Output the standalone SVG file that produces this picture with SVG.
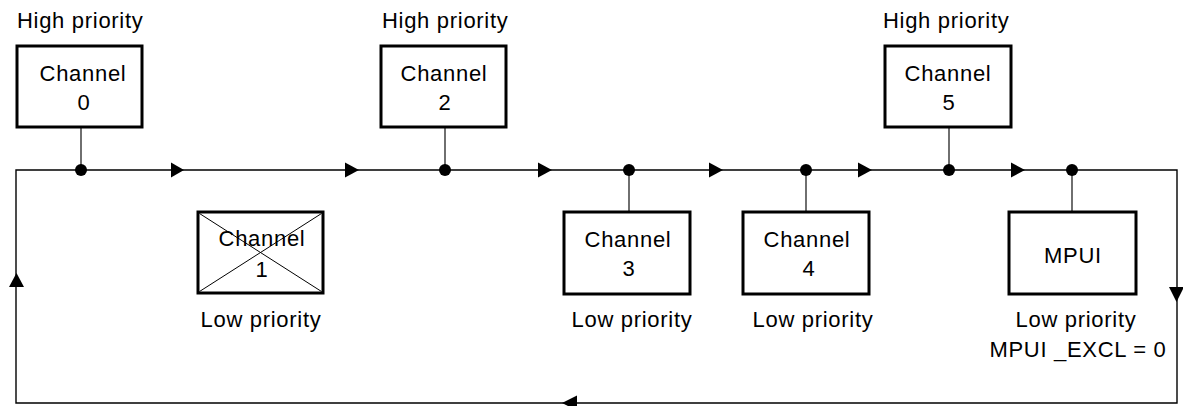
<svg xmlns="http://www.w3.org/2000/svg" width="1183" height="406" viewBox="0 0 1183 406">
<style>
text{font-family:"Liberation Sans",Arial,sans-serif;font-size:22px;letter-spacing:0.7px;fill:#000}
.m{text-anchor:middle}
.box{fill:#fff;stroke:#000;stroke-width:3}
.bus{fill:none;stroke:#000;stroke-width:1.4}
.stub{stroke:#333;stroke-width:1.4}
.arr{fill:#000}
.dot{fill:#000}
.x{stroke:#000;stroke-width:1}
</style>
<g id="connectors">
<path class="bus" d="M16,403 L16,170 L1177,170 L1177,403 Z"/>
<line class="stub" x1="81" y1="127" x2="81" y2="170"/>
<line class="stub" x1="445" y1="127" x2="445" y2="170"/>
<line class="stub" x1="949" y1="127" x2="949" y2="170"/>
<line class="stub" x1="629" y1="170" x2="629" y2="212"/>
<line class="stub" x1="806" y1="170" x2="806" y2="212"/>
<line class="stub" x1="1072" y1="170" x2="1072" y2="212"/>
<polygon class="arr" points="171,162.5 184,170 171,177.5"/>
<polygon class="arr" points="345,162.5 359,170 345,177.5"/>
<polygon class="arr" points="538,162.5 552,170 538,177.5"/>
<polygon class="arr" points="709,162.5 723,170 709,177.5"/>
<polygon class="arr" points="858,162.5 872,170 858,177.5"/>
<polygon class="arr" points="1011,162.5 1025,170 1011,177.5"/>
<polygon class="arr" points="1169,287 1184,287 1176.5,302"/>
<polygon class="arr" points="577,395.5 577,410.5 562,403"/>
<polygon class="arr" points="9,287 24,287 16.5,273"/>
<circle class="dot" cx="81" cy="170" r="6"/>
<circle class="dot" cx="445" cy="170" r="6"/>
<circle class="dot" cx="629" cy="170" r="6"/>
<circle class="dot" cx="806" cy="170" r="6"/>
<circle class="dot" cx="949" cy="170" r="6"/>
<circle class="dot" cx="1072" cy="170" r="6"/>
</g>
<g id="channel0">
<text x="17" y="28">High priority</text>
<rect class="box" x="17" y="46" width="125" height="81"/>
<text class="m" x="83" y="81">Channel</text>
<text class="m" x="84" y="110">0</text>
</g>
<g id="channel2">
<text x="382" y="28">High priority</text>
<rect class="box" x="381" y="46" width="125" height="81"/>
<text class="m" x="444" y="81">Channel</text>
<text class="m" x="445" y="110">2</text>
</g>
<g id="channel5">
<text x="883" y="28">High priority</text>
<rect class="box" x="885" y="46" width="126" height="81"/>
<text class="m" x="948" y="81">Channel</text>
<text class="m" x="949" y="110">5</text>
</g>
<g id="channel1">
<rect class="box" x="198" y="212" width="125" height="81"/>
<line class="x" x1="199.5" y1="213.5" x2="321.5" y2="291.5"/>
<line class="x" x1="321.5" y1="213.5" x2="199.5" y2="291.5"/>
<text class="m" x="262" y="246">Channel</text>
<text class="m" x="262" y="277">1</text>
<text class="m" x="261" y="327">Low priority</text>
</g>
<g id="channel3">
<rect class="box" x="564" y="212" width="126" height="82"/>
<text class="m" x="628" y="247">Channel</text>
<text class="m" x="629" y="276">3</text>
<text class="m" x="632" y="327">Low priority</text>
</g>
<g id="channel4">
<rect class="box" x="743" y="212" width="126" height="82"/>
<text class="m" x="807" y="247">Channel</text>
<text class="m" x="809" y="276">4</text>
<text class="m" x="813" y="327">Low priority</text>
</g>
<g id="mpui">
<rect class="box" x="1009" y="212" width="127" height="82"/>
<text class="m" x="1073" y="263">MPUI</text>
<text class="m" x="1076" y="327">Low priority</text>
<text class="m" x="1078" y="357">MPUI _EXCL = 0</text>
</g>
</svg>
